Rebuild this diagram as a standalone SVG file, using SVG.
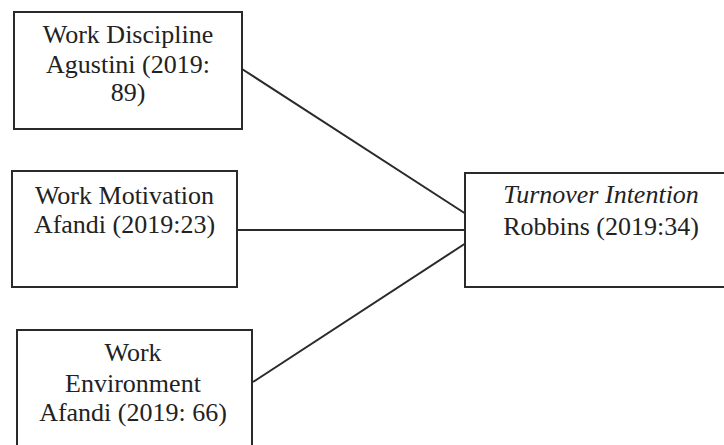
<svg xmlns="http://www.w3.org/2000/svg" width="724" height="445" viewBox="0 0 724 445">
<style>
.box{fill:#fff;stroke:#2a2a2a;stroke-width:2}
.t{font-family:"Liberation Serif","Times New Roman",serif;font-size:26px;fill:#222;text-anchor:middle}
.c{stroke:#2a2a2a;stroke-width:2;fill:none}
</style>
<rect width="724" height="445" fill="#fff"/>
<g id="connectors">
<line class="c" x1="242" y1="69" x2="466" y2="214"/>
<line class="c" x1="237" y1="230" x2="466" y2="230"/>
<line class="c" x1="253" y1="382" x2="466" y2="243"/>
</g>
<g id="work-discipline">
<rect class="box" x="14" y="12" width="228" height="117"/>
<text class="t" x="128" y="43">Work Discipline</text>
<text class="t" x="128" y="73">Agustini (2019:</text>
<text class="t" x="128" y="101">89)</text>
</g>
<g id="work-motivation">
<rect class="box" x="12" y="171" width="225" height="116"/>
<text class="t" x="124.5" y="204">Work Motivation</text>
<text class="t" x="124.5" y="233">Afandi (2019:23)</text>
</g>
<g id="work-environment">
<rect class="box" x="17" y="330" width="235" height="130"/>
<text class="t" x="133" y="361">Work</text>
<text class="t" x="133" y="392">Environment</text>
<text class="t" x="133" y="421">Afandi (2019: 66)</text>
</g>
<g id="turnover-intention">
<rect class="box" x="465" y="173" width="272" height="114"/>
<text class="t" x="601" y="203" font-style="italic">Turnover Intention</text>
<text class="t" x="601" y="235">Robbins (2019:34)</text>
</g>
</svg>
